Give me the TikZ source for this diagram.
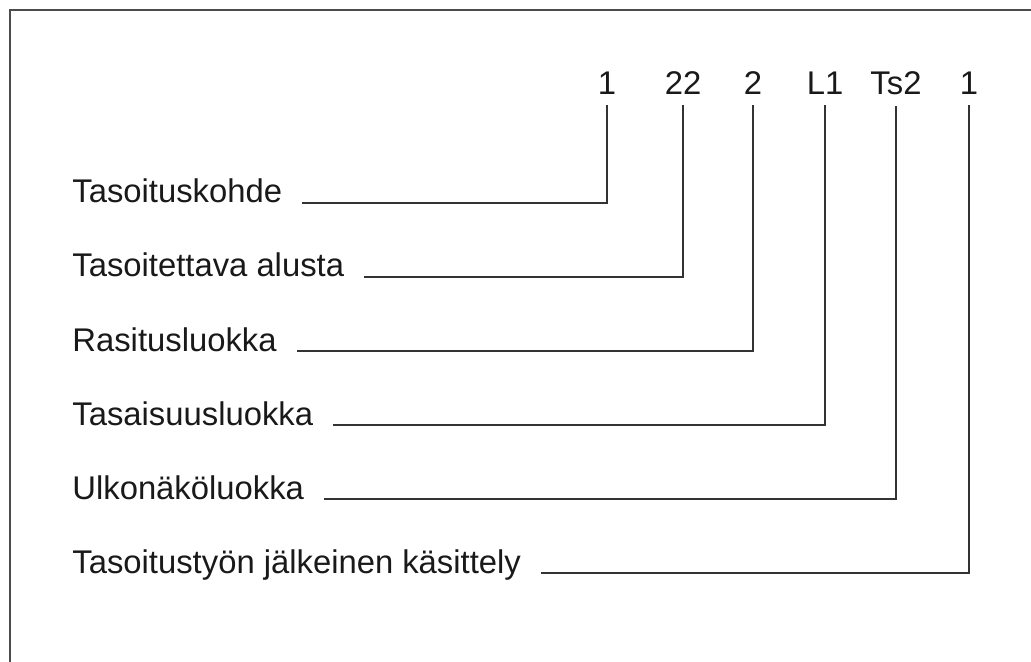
\documentclass[tikz,border=0pt]{standalone}
\usepackage{fontspec}
\setmainfont{Liberation Sans}
\begin{document}
\begin{tikzpicture}[x=0.5pt,y=-0.5pt,
  every node/.style={font=\fontsize{16.4}{19}\selectfont, text=black!90},
  koodi/.style={anchor=base, inner sep=0pt},
  selite/.style={anchor=base west, inner sep=0pt},
  viiva/.style={line width=1pt, draw=black!80}]
\useasboundingbox (0,0) rectangle (1031,662);
% kehys
\draw [line width=1.2pt, draw=black!70] (10,662) -- (10,10) -- (1031,10);
% merkinnan osat
\node[koodi] (k1) at (607,95) {1};
\node[koodi] (k2) at (683,95) {22};
\node[koodi] (k3) at (753,95) {2};
\node[koodi] (k4) at (825,95) {L1};
\node[koodi] (k5) at (896,95) {Ts2};
\node[koodi] (k6) at (969,95) {1};
% selitteet
\node[selite] (s1) at (72,203) {Tasoituskohde};
\node[selite] (s2) at (72,277) {Tasoitettava alusta};
\node[selite] (s3) at (72,351) {Rasitusluokka};
\node[selite] (s4) at (72,425) {Tasaisuusluokka};
\node[selite] (s5) at (72,499) {Ulkonäköluokka};
\node[selite] (s6) at (72,573) {Tasoitustyön jälkeinen käsittely};
% viivat
\draw [viiva] ([xshift=10pt]s1.base east) -- (s1.base -| k1) -- ([yshift=-5pt]k1.south);
\draw [viiva] ([xshift=10pt]s2.base east) -- (s2.base -| k2) -- ([yshift=-5pt]k2.south);
\draw [viiva] ([xshift=10pt]s3.base east) -- (s3.base -| k3) -- ([yshift=-5pt]k3.south);
\draw [viiva] ([xshift=10pt]s4.base east) -- (s4.base -| k4) -- ([yshift=-5pt]k4.south);
\draw [viiva] ([xshift=10pt]s5.base east) -- (s5.base -| k5) -- ([yshift=-5pt]k5.south);
\draw [viiva] ([xshift=10pt]s6.base east) -- (s6.base -| k6) -- ([yshift=-5pt]k6.south);
\end{tikzpicture}
\end{document}
